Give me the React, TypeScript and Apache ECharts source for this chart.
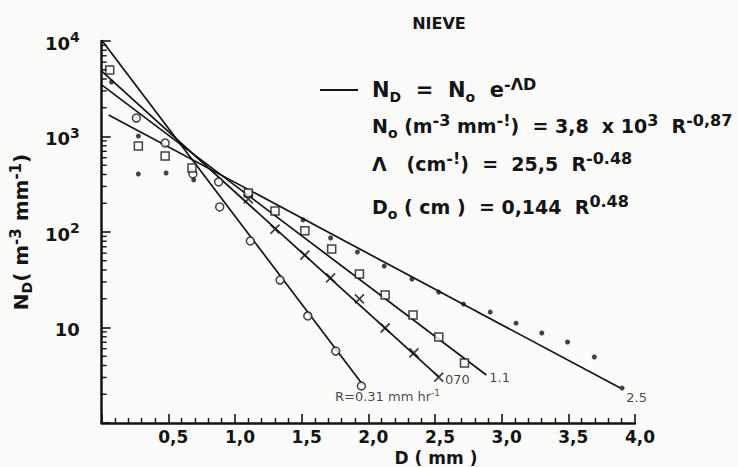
import React, { useEffect, useRef } from 'react';
import * as echarts from 'echarts';

// ---- data ----
const xTickLabels = ['', '0,5', '1,0', '1,5', '2,0', '2,5', '3,0', '3,5', '4,0'];
const yMinorTicks = [
  2, 3, 4, 5, 6, 7, 8, 9,
  20, 30, 40, 50, 60, 70, 80, 90,
  200, 300, 400, 500, 600, 700, 800, 900,
  2000, 3000, 4000, 5000, 6000, 7000, 8000, 9000,
];

// fitted exponential lines (straight on log axis): [D (mm), N_D]
const lineR031 = [[0, 10200], [1.96, 2.5]];
const lineR070 = [[0, 4850], [2.53, 3.03]];
const lineR11 = [[0, 3470], [2.885, 3.18]];
const lineR25 = [[0.052, 1680], [3.89, 2.32]];

// measured points
const circlePts = [
  [0.26, 1560], [0.476, 855], [0.684, 405], [0.877, 334], [0.885, 183],
  [1.115, 80.5], [1.338, 31.4], [1.546, 13.2], [1.755, 5.67], [1.948, 2.44],
];
const squarePts = [
  [0.06, 4970], [0.275, 796], [0.476, 625], [0.677, 468], [1.1, 256], [1.3, 166],
  [1.524, 103], [1.725, 66.4], [1.933, 36.3], [2.126, 21.9], [2.335, 13.5],
  [2.528, 7.95], [2.721, 4.25],
];
const crossPts = [
  [1.1, 222], [1.3, 107], [1.524, 57.4], [1.717, 33], [1.933, 19.9],
  [2.126, 9.88], [2.342, 5.41], [2.528, 3.03],
];
const dotPts = [
  [0.06, 10500], [0.074, 3720], [0.275, 1010], [0.275, 405], [0.483, 415], [0.69, 351],
  [1.51, 134], [1.717, 86.5], [1.918, 61.8], [2.119, 44], [2.327, 32.2], [2.528, 23.5],
  [2.714, 17.6], [2.914, 14.5], [3.108, 11.1], [3.301, 8.76], [3.494, 7.05],
  [3.695, 4.91], [3.903, 2.32],
];

const lineLabels = ['R=0.31 mm hr', '070', '1.1', '2.5'];

const INK = '#141414';
const BG = '#fbfbfa';
const F = '"DejaVu Sans", "Liberation Sans", sans-serif';

export default function App() {
  const ref = useRef<HTMLDivElement>(null);

  useEffect(() => {
    const chart = echarts.init(ref.current as HTMLDivElement, null, { renderer: 'svg' });

    const lineStyle = { color: INK, width: 1.7 };
    const mkLine = (name: string, data: number[][]) => ({
      name,
      type: 'line',
      data,
      symbol: 'none',
      lineStyle,
      z: 3,
      silent: true,
    });

    const ends = [lineR031, lineR070, lineR11, lineR25].map((l) => l[l.length - 1]);
    const labelOffsets = [[-28, 11], [6, 2], [3, 2], [6, 9]];

    const fm = { fontFamily: F, fontWeight: 'bold', fill: INK };
    const richBig = {
      m: { ...fm, fontSize: 21, lineHeight: 28, verticalAlign: 'middle' },
      sub: { ...fm, fontSize: 14, lineHeight: 12, verticalAlign: 'bottom' },
      sup: { ...fm, fontSize: 16, lineHeight: 15, verticalAlign: 'top' },
    };
    const rich = {
      m: { ...fm, fontSize: 19, lineHeight: 28, verticalAlign: 'middle' },
      sub: { ...fm, fontSize: 14, lineHeight: 12, verticalAlign: 'bottom' },
      sup: { ...fm, fontSize: 16, lineHeight: 14, verticalAlign: 'top' },
    };

    chart.setOption({
      animation: false,
      backgroundColor: BG,
      grid: { left: 97, right: 103, top: 41, bottom: 44 },
      xAxis: {
        type: 'value',
        min: 0,
        max: 4,
        interval: 0.5,
        axisLine: { lineStyle: { color: INK, width: 2.5 } },
        axisTick: { inside: true, length: 9, lineStyle: { color: INK, width: 1.6 } },
        minorTick: { show: true, splitNumber: 5, length: 5, lineStyle: { color: INK, width: 1.4 } },
        splitLine: { show: false },
        axisLabel: {
          color: INK,
          fontFamily: F,
          fontWeight: 'bold',
          fontSize: 17,
          margin: 5,
          padding: [0, 0, 0, 10],
          formatter: (v: number) => xTickLabels[Math.round(v / 0.5)] ?? '',
        },
      },
      yAxis: {
        type: 'log',
        logBase: 10,
        min: 1,
        max: 10000,
        axisLine: { lineStyle: { color: INK, width: 2.5 } },
        axisTick: { inside: true, length: 9, lineStyle: { color: INK, width: 1.6 } },
        splitLine: { show: false },
        axisLabel: {
          margin: 22,
          formatter: (v: number) => {
            const e = Math.round(Math.log10(v));
            if (e === 0) return '';
            if (e === 1) return '{b|10}';
            return '{b|10}{s|' + e + '}';
          },
          rich: {
            b: { fontFamily: F, fontWeight: 'bold', fontSize: 18, color: INK, lineHeight: 22, verticalAlign: 'bottom' },
            s: { fontFamily: F, fontWeight: 'bold', fontSize: 14, color: INK, lineHeight: 14, verticalAlign: 'top' },
          },
        },
        name: '{m|N}{sub|D}{m|( m}{sup|-3}{m| mm}{sup|-1}{m|)}',
        nameLocation: 'middle',
        nameRotate: 90,
        nameGap: 37,
        nameTextStyle: {
          rich: {
            m: { fontFamily: F, fontWeight: 'bold', fontSize: 20, color: INK, lineHeight: 26, verticalAlign: 'middle' },
            sub: { fontFamily: F, fontWeight: 'bold', fontSize: 14, color: INK, lineHeight: 12, verticalAlign: 'bottom' },
            sup: { fontFamily: F, fontWeight: 'bold', fontSize: 15, color: INK, lineHeight: 14, verticalAlign: 'top' },
          },
        },
      },
      series: [
        mkLine('R=0.31', lineR031),
        mkLine('R=0.70', lineR070),
        mkLine('R=1.1', lineR11),
        mkLine('R=2.5', lineR25),
        {
          name: 'circles',
          type: 'scatter',
          data: circlePts,
          symbol: 'circle',
          symbolSize: 8,
          itemStyle: { color: BG, borderColor: INK, borderWidth: 1.5 },
          z: 4,
        },
        {
          name: 'squares',
          type: 'scatter',
          data: squarePts,
          symbol: 'rect',
          symbolSize: 8,
          itemStyle: { color: BG, borderColor: INK, borderWidth: 1.5 },
          z: 4,
        },
        {
          name: 'crosses',
          type: 'scatter',
          data: crossPts,
          symbol: 'path://M0,0L10,10M10,0L0,10',
          symbolSize: 9,
          itemStyle: { color: 'none', borderColor: INK, borderWidth: 1.8 },
          z: 4,
        },
        {
          name: 'dots',
          type: 'scatter',
          data: dotPts,
          symbol: 'circle',
          symbolSize: 5,
          itemStyle: { color: INK },
          z: 4,
        },
        {
          name: 'labels',
          type: 'scatter',
          symbolSize: 1,
          itemStyle: { color: 'rgba(0,0,0,0)' },
          data: ends.map((e, i) => ({
            value: e,
            label: {
              show: true,
              position: 'inside',
              align: 'left',
              verticalAlign: 'middle',
              offset: labelOffsets[i],
              formatter: i === 0 ? '{a|' + lineLabels[i] + '}{s|-1}' : '{a|' + lineLabels[i] + '}',
              rich: {
                a: { fontFamily: F, fontSize: 13, color: INK, lineHeight: 14, verticalAlign: 'bottom' },
                s: { fontFamily: F, fontSize: 9, color: INK, lineHeight: 8, verticalAlign: 'top' },
              },
            },
          })),
          z: 5,
        },
        {
          name: 'minorY',
          type: 'custom',
          coordinateSystem: 'cartesian2d',
          data: yMinorTicks.map((v) => [0, v]),
          clip: false,
          silent: true,
          z: 5,
          renderItem: (_p: any, api: any) => {
            const p = api.coord([0, api.value(1)]);
            return {
              type: 'line',
              shape: { x1: p[0], y1: p[1], x2: p[0] + 5, y2: p[1] },
              style: { stroke: INK, lineWidth: 1.4 },
            };
          },
        },
      ],
      graphic: [
        {
          type: 'text',
          x: 439,
          y: 23,
          style: { text: 'NIEVE', font: 'bold 16px ' + F, fill: INK, align: 'center', verticalAlign: 'middle' },
        },
        {
          type: 'line',
          shape: { x1: 320, y1: 90, x2: 358, y2: 90 },
          style: { stroke: INK, lineWidth: 2 },
        },
        {
          type: 'text',
          x: 372,
          y: 90,
          style: {
            text: '{m|N}{sub|D}{m|  =  N}{sub|o}{m|  e}{sup|-ΛD}',
            rich: richBig,
            verticalAlign: 'middle',
            align: 'left',
          },
        },
        {
          type: 'text',
          x: 372,
          y: 126,
          style: {
            text: '{m|N}{sub|o}{m| (m}{sup|-3}{m| mm}{sup|-!}{m|)  = 3,8  x 10}{sup|3}{m|  R}{sup|-0,87}',
            rich,
            verticalAlign: 'middle',
            align: 'left',
          },
        },
        {
          type: 'text',
          x: 372,
          y: 164,
          style: {
            text: '{m|Λ   (cm}{sup|-!}{m|)  =  25,5  R}{sup|-0.48}',
            rich,
            verticalAlign: 'middle',
            align: 'left',
          },
        },
        {
          type: 'text',
          x: 372,
          y: 207,
          style: {
            text: '{m|D}{sub|o}{m| ( cm )  = 0,144  R}{sup|0.48}',
            rich,
            verticalAlign: 'middle',
            align: 'left',
          },
        },
        {
          type: 'text',
          x: 436,
          y: 458,
          style: { text: 'D ( mm )', font: 'bold 17px ' + F, fill: INK, align: 'center', verticalAlign: 'middle' },
        },
      ],
    });

    return () => chart.dispose();
  }, []);

  return (
    <div
      ref={ref}
      style={{ position: 'fixed', left: 0, top: 0, width: 738, height: 467 }}
    />
  );
}
